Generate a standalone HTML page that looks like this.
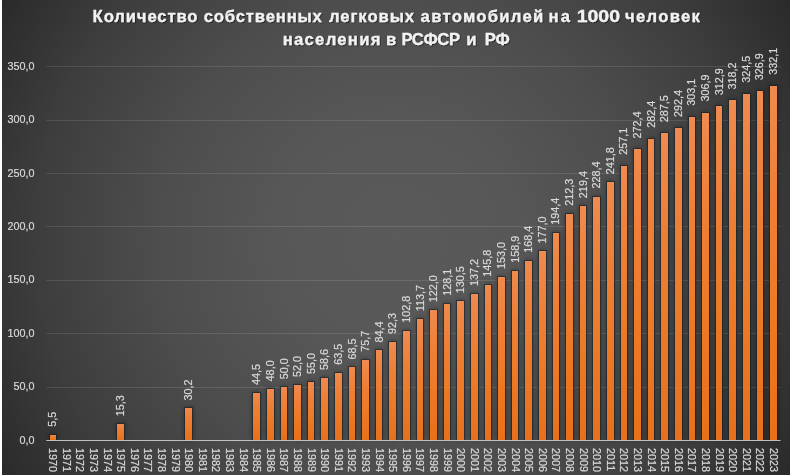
<!DOCTYPE html>
<html><head><meta charset="utf-8"><style>
html,body{margin:0;padding:0;width:790px;height:475px;overflow:hidden;background:#2a2a2a}
svg{display:block;will-change:transform}
text{font-family:"Liberation Sans",sans-serif}
</style></head><body>
<svg width="790" height="475" viewBox="0 0 790 475">
<defs>
<radialGradient id="bg" cx="395" cy="237" r="480" gradientUnits="userSpaceOnUse">
<stop offset="0" stop-color="#5a5a5a"/>
<stop offset="0.25" stop-color="#575757"/>
<stop offset="0.5" stop-color="#4d4d4d"/>
<stop offset="0.75" stop-color="#3d3d3d"/>
<stop offset="1" stop-color="#262626"/>
</radialGradient>
<linearGradient id="bar" x1="0" y1="0" x2="0" y2="1">
<stop offset="0" stop-color="#f08a4e"/>
<stop offset="0.3" stop-color="#ef7f36"/>
<stop offset="0.6" stop-color="#ed7a26"/>
<stop offset="1" stop-color="#e8701a"/>
</linearGradient>
<filter id="tsh" x="-5%" y="-20%" width="110%" height="140%">
<feDropShadow dx="0.8" dy="0.8" stdDeviation="0.6" flood-color="#000" flood-opacity="0.6"/>
</filter>
<filter id="bsh" x="-50%" y="-5%" width="200%" height="110%"><feGaussianBlur stdDeviation="0.45"/></filter>
<filter id="bsoft" x="-5%" y="-5%" width="110%" height="110%"><feGaussianBlur stdDeviation="2"/></filter>
</defs>
<rect x="0" y="0" width="790" height="475" fill="url(#bg)"/>
<rect x="0" y="0" width="2" height="475" fill="#ffffff"/>

<rect x="46.3" y="387" width="734.20" height="1" fill="#ffffff" fill-opacity="0.11"/>
<rect x="46.3" y="333" width="734.20" height="1" fill="#ffffff" fill-opacity="0.11"/>
<rect x="46.3" y="280" width="734.20" height="1" fill="#ffffff" fill-opacity="0.11"/>
<rect x="46.3" y="226" width="734.20" height="1" fill="#ffffff" fill-opacity="0.11"/>
<rect x="46.3" y="173" width="734.20" height="1" fill="#ffffff" fill-opacity="0.11"/>
<rect x="46.3" y="120" width="734.20" height="1" fill="#ffffff" fill-opacity="0.11"/>
<rect x="46.3" y="66" width="734.20" height="1" fill="#ffffff" fill-opacity="0.11"/>
<text x="34.5" y="443.80" text-anchor="end" font-size="10.8" fill="#d9d9d9" stroke="#d9d9d9" stroke-width="0.2">0,0</text>
<text x="34.5" y="390.34" text-anchor="end" font-size="10.8" fill="#d9d9d9" stroke="#d9d9d9" stroke-width="0.2">50,0</text>
<text x="34.5" y="336.89" text-anchor="end" font-size="10.8" fill="#d9d9d9" stroke="#d9d9d9" stroke-width="0.2">100,0</text>
<text x="34.5" y="283.43" text-anchor="end" font-size="10.8" fill="#d9d9d9" stroke="#d9d9d9" stroke-width="0.2">150,0</text>
<text x="34.5" y="229.97" text-anchor="end" font-size="10.8" fill="#d9d9d9" stroke="#d9d9d9" stroke-width="0.2">200,0</text>
<text x="34.5" y="176.51" text-anchor="end" font-size="10.8" fill="#d9d9d9" stroke="#d9d9d9" stroke-width="0.2">250,0</text>
<text x="34.5" y="123.06" text-anchor="end" font-size="10.8" fill="#d9d9d9" stroke="#d9d9d9" stroke-width="0.2">300,0</text>
<text x="34.5" y="69.60" text-anchor="end" font-size="10.8" fill="#d9d9d9" stroke="#d9d9d9" stroke-width="0.2">350,0</text>
<g fill="#000" opacity="0.35" filter="url(#bsoft)"><rect x="49" y="434" width="8" height="6"/><rect x="116" y="423" width="9" height="17"/><rect x="184" y="407" width="9" height="33"/><rect x="252" y="392" width="9" height="48"/><rect x="266" y="388" width="9" height="52"/><rect x="280" y="386" width="8" height="54"/><rect x="293" y="384" width="9" height="56"/><rect x="307" y="381" width="8" height="59"/><rect x="320" y="377" width="9" height="63"/><rect x="334" y="372" width="9" height="68"/><rect x="348" y="366" width="8" height="74"/><rect x="361" y="359" width="9" height="81"/><rect x="375" y="349" width="8" height="91"/><rect x="388" y="341" width="9" height="99"/><rect x="402" y="330" width="9" height="110"/><rect x="416" y="318" width="8" height="122"/><rect x="429" y="309" width="9" height="131"/><rect x="443" y="303" width="8" height="137"/><rect x="456" y="300" width="9" height="140"/><rect x="470" y="293" width="9" height="147"/><rect x="484" y="284" width="8" height="156"/><rect x="497" y="276" width="9" height="164"/><rect x="511" y="270" width="8" height="170"/><rect x="524" y="260" width="9" height="180"/><rect x="538" y="250" width="9" height="190"/><rect x="552" y="232" width="8" height="208"/><rect x="565" y="213" width="9" height="227"/><rect x="579" y="205" width="8" height="235"/><rect x="592" y="196" width="9" height="244"/><rect x="606" y="181" width="9" height="259"/><rect x="620" y="165" width="8" height="275"/><rect x="633" y="148" width="9" height="292"/><rect x="647" y="138" width="8" height="302"/><rect x="660" y="132" width="9" height="308"/><rect x="674" y="127" width="9" height="313"/><rect x="688" y="116" width="8" height="324"/><rect x="701" y="112" width="9" height="328"/><rect x="715" y="105" width="8" height="335"/><rect x="728" y="99" width="9" height="341"/><rect x="742" y="93" width="9" height="347"/><rect x="756" y="90" width="8" height="350"/><rect x="769" y="85" width="9" height="355"/></g>
<g fill="#18222c" opacity="0.55" filter="url(#bsh)"><rect x="49" y="434" width="8" height="6"/><rect x="116" y="423" width="9" height="17"/><rect x="184" y="407" width="9" height="33"/><rect x="252" y="392" width="9" height="48"/><rect x="266" y="388" width="9" height="52"/><rect x="280" y="386" width="8" height="54"/><rect x="293" y="384" width="9" height="56"/><rect x="307" y="381" width="8" height="59"/><rect x="320" y="377" width="9" height="63"/><rect x="334" y="372" width="9" height="68"/><rect x="348" y="366" width="8" height="74"/><rect x="361" y="359" width="9" height="81"/><rect x="375" y="349" width="8" height="91"/><rect x="388" y="341" width="9" height="99"/><rect x="402" y="330" width="9" height="110"/><rect x="416" y="318" width="8" height="122"/><rect x="429" y="309" width="9" height="131"/><rect x="443" y="303" width="8" height="137"/><rect x="456" y="300" width="9" height="140"/><rect x="470" y="293" width="9" height="147"/><rect x="484" y="284" width="8" height="156"/><rect x="497" y="276" width="9" height="164"/><rect x="511" y="270" width="8" height="170"/><rect x="524" y="260" width="9" height="180"/><rect x="538" y="250" width="9" height="190"/><rect x="552" y="232" width="8" height="208"/><rect x="565" y="213" width="9" height="227"/><rect x="579" y="205" width="8" height="235"/><rect x="592" y="196" width="9" height="244"/><rect x="606" y="181" width="9" height="259"/><rect x="620" y="165" width="8" height="275"/><rect x="633" y="148" width="9" height="292"/><rect x="647" y="138" width="8" height="302"/><rect x="660" y="132" width="9" height="308"/><rect x="674" y="127" width="9" height="313"/><rect x="688" y="116" width="8" height="324"/><rect x="701" y="112" width="9" height="328"/><rect x="715" y="105" width="8" height="335"/><rect x="728" y="99" width="9" height="341"/><rect x="742" y="93" width="9" height="347"/><rect x="756" y="90" width="8" height="350"/><rect x="769" y="85" width="9" height="355"/></g>
<rect x="50" y="435" width="6" height="5" fill="url(#bar)"/><rect x="117" y="424" width="7" height="16" fill="url(#bar)"/><rect x="185" y="408" width="7" height="32" fill="url(#bar)"/><rect x="253" y="393" width="7" height="47" fill="url(#bar)"/><rect x="267" y="389" width="7" height="51" fill="url(#bar)"/><rect x="281" y="387" width="6" height="53" fill="url(#bar)"/><rect x="294" y="385" width="7" height="55" fill="url(#bar)"/><rect x="308" y="382" width="6" height="58" fill="url(#bar)"/><rect x="321" y="378" width="7" height="62" fill="url(#bar)"/><rect x="335" y="373" width="7" height="67" fill="url(#bar)"/><rect x="349" y="367" width="6" height="73" fill="url(#bar)"/><rect x="362" y="360" width="7" height="80" fill="url(#bar)"/><rect x="376" y="350" width="6" height="90" fill="url(#bar)"/><rect x="389" y="342" width="7" height="98" fill="url(#bar)"/><rect x="403" y="331" width="7" height="109" fill="url(#bar)"/><rect x="417" y="319" width="6" height="121" fill="url(#bar)"/><rect x="430" y="310" width="7" height="130" fill="url(#bar)"/><rect x="444" y="304" width="6" height="136" fill="url(#bar)"/><rect x="457" y="301" width="7" height="139" fill="url(#bar)"/><rect x="471" y="294" width="7" height="146" fill="url(#bar)"/><rect x="485" y="285" width="6" height="155" fill="url(#bar)"/><rect x="498" y="277" width="7" height="163" fill="url(#bar)"/><rect x="512" y="271" width="6" height="169" fill="url(#bar)"/><rect x="525" y="261" width="7" height="179" fill="url(#bar)"/><rect x="539" y="251" width="7" height="189" fill="url(#bar)"/><rect x="553" y="233" width="6" height="207" fill="url(#bar)"/><rect x="566" y="214" width="7" height="226" fill="url(#bar)"/><rect x="580" y="206" width="6" height="234" fill="url(#bar)"/><rect x="593" y="197" width="7" height="243" fill="url(#bar)"/><rect x="607" y="182" width="7" height="258" fill="url(#bar)"/><rect x="621" y="166" width="6" height="274" fill="url(#bar)"/><rect x="634" y="149" width="7" height="291" fill="url(#bar)"/><rect x="648" y="139" width="6" height="301" fill="url(#bar)"/><rect x="661" y="133" width="7" height="307" fill="url(#bar)"/><rect x="675" y="128" width="7" height="312" fill="url(#bar)"/><rect x="689" y="117" width="6" height="323" fill="url(#bar)"/><rect x="702" y="113" width="7" height="327" fill="url(#bar)"/><rect x="716" y="106" width="6" height="334" fill="url(#bar)"/><rect x="729" y="100" width="7" height="340" fill="url(#bar)"/><rect x="743" y="94" width="7" height="346" fill="url(#bar)"/><rect x="757" y="91" width="6" height="349" fill="url(#bar)"/><rect x="770" y="86" width="7" height="354" fill="url(#bar)"/>
<rect x="46.3" y="440" width="734.20" height="1" fill="#c0c0c0"/>
<text transform="translate(56.40,426.82) rotate(-90)" font-size="10.8" fill="#d9d9d9" stroke="#d9d9d9" stroke-width="0.2">5,5</text>
<text transform="translate(124.38,416.34) rotate(-90)" font-size="10.8" fill="#d9d9d9" stroke="#d9d9d9" stroke-width="0.2">15,3</text>
<text transform="translate(192.36,400.41) rotate(-90)" font-size="10.8" fill="#d9d9d9" stroke="#d9d9d9" stroke-width="0.2">30,2</text>
<text transform="translate(260.34,385.12) rotate(-90)" font-size="10.8" fill="#d9d9d9" stroke="#d9d9d9" stroke-width="0.2">44,5</text>
<text transform="translate(273.94,381.38) rotate(-90)" font-size="10.8" fill="#d9d9d9" stroke="#d9d9d9" stroke-width="0.2">48,0</text>
<text transform="translate(287.54,379.24) rotate(-90)" font-size="10.8" fill="#d9d9d9" stroke="#d9d9d9" stroke-width="0.2">50,0</text>
<text transform="translate(301.13,377.10) rotate(-90)" font-size="10.8" fill="#d9d9d9" stroke="#d9d9d9" stroke-width="0.2">52,0</text>
<text transform="translate(314.73,373.90) rotate(-90)" font-size="10.8" fill="#d9d9d9" stroke="#d9d9d9" stroke-width="0.2">55,0</text>
<text transform="translate(328.32,370.05) rotate(-90)" font-size="10.8" fill="#d9d9d9" stroke="#d9d9d9" stroke-width="0.2">58,6</text>
<text transform="translate(341.92,364.81) rotate(-90)" font-size="10.8" fill="#d9d9d9" stroke="#d9d9d9" stroke-width="0.2">63,5</text>
<text transform="translate(355.52,359.46) rotate(-90)" font-size="10.8" fill="#d9d9d9" stroke="#d9d9d9" stroke-width="0.2">68,5</text>
<text transform="translate(369.11,351.77) rotate(-90)" font-size="10.8" fill="#d9d9d9" stroke="#d9d9d9" stroke-width="0.2">75,7</text>
<text transform="translate(382.71,342.46) rotate(-90)" font-size="10.8" fill="#d9d9d9" stroke="#d9d9d9" stroke-width="0.2">84,4</text>
<text transform="translate(396.31,334.02) rotate(-90)" font-size="10.8" fill="#d9d9d9" stroke="#d9d9d9" stroke-width="0.2">92,3</text>
<text transform="translate(409.90,322.79) rotate(-90)" font-size="10.8" fill="#d9d9d9" stroke="#d9d9d9" stroke-width="0.2">102,8</text>
<text transform="translate(423.50,311.14) rotate(-90)" font-size="10.8" fill="#d9d9d9" stroke="#d9d9d9" stroke-width="0.2">113,7</text>
<text transform="translate(437.09,302.26) rotate(-90)" font-size="10.8" fill="#d9d9d9" stroke="#d9d9d9" stroke-width="0.2">122,0</text>
<text transform="translate(450.69,295.74) rotate(-90)" font-size="10.8" fill="#d9d9d9" stroke="#d9d9d9" stroke-width="0.2">128,1</text>
<text transform="translate(464.29,293.18) rotate(-90)" font-size="10.8" fill="#d9d9d9" stroke="#d9d9d9" stroke-width="0.2">130,5</text>
<text transform="translate(477.88,286.01) rotate(-90)" font-size="10.8" fill="#d9d9d9" stroke="#d9d9d9" stroke-width="0.2">137,2</text>
<text transform="translate(491.48,276.82) rotate(-90)" font-size="10.8" fill="#d9d9d9" stroke="#d9d9d9" stroke-width="0.2">145,8</text>
<text transform="translate(505.08,269.12) rotate(-90)" font-size="10.8" fill="#d9d9d9" stroke="#d9d9d9" stroke-width="0.2">153,0</text>
<text transform="translate(518.67,262.81) rotate(-90)" font-size="10.8" fill="#d9d9d9" stroke="#d9d9d9" stroke-width="0.2">158,9</text>
<text transform="translate(532.27,252.66) rotate(-90)" font-size="10.8" fill="#d9d9d9" stroke="#d9d9d9" stroke-width="0.2">168,4</text>
<text transform="translate(545.86,243.46) rotate(-90)" font-size="10.8" fill="#d9d9d9" stroke="#d9d9d9" stroke-width="0.2">177,0</text>
<text transform="translate(559.46,224.86) rotate(-90)" font-size="10.8" fill="#d9d9d9" stroke="#d9d9d9" stroke-width="0.2">194,4</text>
<text transform="translate(573.06,205.72) rotate(-90)" font-size="10.8" fill="#d9d9d9" stroke="#d9d9d9" stroke-width="0.2">212,3</text>
<text transform="translate(586.65,198.13) rotate(-90)" font-size="10.8" fill="#d9d9d9" stroke="#d9d9d9" stroke-width="0.2">219,4</text>
<text transform="translate(600.25,188.51) rotate(-90)" font-size="10.8" fill="#d9d9d9" stroke="#d9d9d9" stroke-width="0.2">228,4</text>
<text transform="translate(613.85,174.18) rotate(-90)" font-size="10.8" fill="#d9d9d9" stroke="#d9d9d9" stroke-width="0.2">241,8</text>
<text transform="translate(627.44,154.82) rotate(-90)" font-size="10.8" fill="#d9d9d9" stroke="#d9d9d9" stroke-width="0.2">257,1</text>
<text transform="translate(641.04,138.47) rotate(-90)" font-size="10.8" fill="#d9d9d9" stroke="#d9d9d9" stroke-width="0.2">272,4</text>
<text transform="translate(654.64,127.77) rotate(-90)" font-size="10.8" fill="#d9d9d9" stroke="#d9d9d9" stroke-width="0.2">282,4</text>
<text transform="translate(668.23,122.32) rotate(-90)" font-size="10.8" fill="#d9d9d9" stroke="#d9d9d9" stroke-width="0.2">287,5</text>
<text transform="translate(681.83,117.08) rotate(-90)" font-size="10.8" fill="#d9d9d9" stroke="#d9d9d9" stroke-width="0.2">292,4</text>
<text transform="translate(695.42,105.64) rotate(-90)" font-size="10.8" fill="#d9d9d9" stroke="#d9d9d9" stroke-width="0.2">303,1</text>
<text transform="translate(709.02,101.58) rotate(-90)" font-size="10.8" fill="#d9d9d9" stroke="#d9d9d9" stroke-width="0.2">306,9</text>
<text transform="translate(722.62,95.17) rotate(-90)" font-size="10.8" fill="#d9d9d9" stroke="#d9d9d9" stroke-width="0.2">312,9</text>
<text transform="translate(736.21,89.50) rotate(-90)" font-size="10.8" fill="#d9d9d9" stroke="#d9d9d9" stroke-width="0.2">318,2</text>
<text transform="translate(749.81,82.76) rotate(-90)" font-size="10.8" fill="#d9d9d9" stroke="#d9d9d9" stroke-width="0.2">324,5</text>
<text transform="translate(763.41,80.20) rotate(-90)" font-size="10.8" fill="#d9d9d9" stroke="#d9d9d9" stroke-width="0.2">326,9</text>
<text transform="translate(777.00,74.64) rotate(-90)" font-size="10.8" fill="#d9d9d9" stroke="#d9d9d9" stroke-width="0.2">332,1</text>
<text transform="translate(49.30,448.0) rotate(90)" font-size="10.8" fill="#d9d9d9" stroke="#d9d9d9" stroke-width="0.2">1970</text>
<text transform="translate(62.89,448.0) rotate(90)" font-size="10.8" fill="#d9d9d9" stroke="#d9d9d9" stroke-width="0.2">1971</text>
<text transform="translate(76.49,448.0) rotate(90)" font-size="10.8" fill="#d9d9d9" stroke="#d9d9d9" stroke-width="0.2">1972</text>
<text transform="translate(90.09,448.0) rotate(90)" font-size="10.8" fill="#d9d9d9" stroke="#d9d9d9" stroke-width="0.2">1973</text>
<text transform="translate(103.68,448.0) rotate(90)" font-size="10.8" fill="#d9d9d9" stroke="#d9d9d9" stroke-width="0.2">1974</text>
<text transform="translate(117.28,448.0) rotate(90)" font-size="10.8" fill="#d9d9d9" stroke="#d9d9d9" stroke-width="0.2">1975</text>
<text transform="translate(130.88,448.0) rotate(90)" font-size="10.8" fill="#d9d9d9" stroke="#d9d9d9" stroke-width="0.2">1976</text>
<text transform="translate(144.47,448.0) rotate(90)" font-size="10.8" fill="#d9d9d9" stroke="#d9d9d9" stroke-width="0.2">1977</text>
<text transform="translate(158.07,448.0) rotate(90)" font-size="10.8" fill="#d9d9d9" stroke="#d9d9d9" stroke-width="0.2">1978</text>
<text transform="translate(171.66,448.0) rotate(90)" font-size="10.8" fill="#d9d9d9" stroke="#d9d9d9" stroke-width="0.2">1979</text>
<text transform="translate(185.26,448.0) rotate(90)" font-size="10.8" fill="#d9d9d9" stroke="#d9d9d9" stroke-width="0.2">1980</text>
<text transform="translate(198.86,448.0) rotate(90)" font-size="10.8" fill="#d9d9d9" stroke="#d9d9d9" stroke-width="0.2">1981</text>
<text transform="translate(212.45,448.0) rotate(90)" font-size="10.8" fill="#d9d9d9" stroke="#d9d9d9" stroke-width="0.2">1982</text>
<text transform="translate(226.05,448.0) rotate(90)" font-size="10.8" fill="#d9d9d9" stroke="#d9d9d9" stroke-width="0.2">1983</text>
<text transform="translate(239.65,448.0) rotate(90)" font-size="10.8" fill="#d9d9d9" stroke="#d9d9d9" stroke-width="0.2">1984</text>
<text transform="translate(253.24,448.0) rotate(90)" font-size="10.8" fill="#d9d9d9" stroke="#d9d9d9" stroke-width="0.2">1985</text>
<text transform="translate(266.84,448.0) rotate(90)" font-size="10.8" fill="#d9d9d9" stroke="#d9d9d9" stroke-width="0.2">1986</text>
<text transform="translate(280.44,448.0) rotate(90)" font-size="10.8" fill="#d9d9d9" stroke="#d9d9d9" stroke-width="0.2">1987</text>
<text transform="translate(294.03,448.0) rotate(90)" font-size="10.8" fill="#d9d9d9" stroke="#d9d9d9" stroke-width="0.2">1988</text>
<text transform="translate(307.63,448.0) rotate(90)" font-size="10.8" fill="#d9d9d9" stroke="#d9d9d9" stroke-width="0.2">1989</text>
<text transform="translate(321.22,448.0) rotate(90)" font-size="10.8" fill="#d9d9d9" stroke="#d9d9d9" stroke-width="0.2">1990</text>
<text transform="translate(334.82,448.0) rotate(90)" font-size="10.8" fill="#d9d9d9" stroke="#d9d9d9" stroke-width="0.2">1991</text>
<text transform="translate(348.42,448.0) rotate(90)" font-size="10.8" fill="#d9d9d9" stroke="#d9d9d9" stroke-width="0.2">1992</text>
<text transform="translate(362.01,448.0) rotate(90)" font-size="10.8" fill="#d9d9d9" stroke="#d9d9d9" stroke-width="0.2">1993</text>
<text transform="translate(375.61,448.0) rotate(90)" font-size="10.8" fill="#d9d9d9" stroke="#d9d9d9" stroke-width="0.2">1994</text>
<text transform="translate(389.21,448.0) rotate(90)" font-size="10.8" fill="#d9d9d9" stroke="#d9d9d9" stroke-width="0.2">1995</text>
<text transform="translate(402.80,448.0) rotate(90)" font-size="10.8" fill="#d9d9d9" stroke="#d9d9d9" stroke-width="0.2">1996</text>
<text transform="translate(416.40,448.0) rotate(90)" font-size="10.8" fill="#d9d9d9" stroke="#d9d9d9" stroke-width="0.2">1997</text>
<text transform="translate(429.99,448.0) rotate(90)" font-size="10.8" fill="#d9d9d9" stroke="#d9d9d9" stroke-width="0.2">1998</text>
<text transform="translate(443.59,448.0) rotate(90)" font-size="10.8" fill="#d9d9d9" stroke="#d9d9d9" stroke-width="0.2">1999</text>
<text transform="translate(457.19,448.0) rotate(90)" font-size="10.8" fill="#d9d9d9" stroke="#d9d9d9" stroke-width="0.2">2000</text>
<text transform="translate(470.78,448.0) rotate(90)" font-size="10.8" fill="#d9d9d9" stroke="#d9d9d9" stroke-width="0.2">2001</text>
<text transform="translate(484.38,448.0) rotate(90)" font-size="10.8" fill="#d9d9d9" stroke="#d9d9d9" stroke-width="0.2">2002</text>
<text transform="translate(497.98,448.0) rotate(90)" font-size="10.8" fill="#d9d9d9" stroke="#d9d9d9" stroke-width="0.2">2003</text>
<text transform="translate(511.57,448.0) rotate(90)" font-size="10.8" fill="#d9d9d9" stroke="#d9d9d9" stroke-width="0.2">2004</text>
<text transform="translate(525.17,448.0) rotate(90)" font-size="10.8" fill="#d9d9d9" stroke="#d9d9d9" stroke-width="0.2">2005</text>
<text transform="translate(538.76,448.0) rotate(90)" font-size="10.8" fill="#d9d9d9" stroke="#d9d9d9" stroke-width="0.2">2006</text>
<text transform="translate(552.36,448.0) rotate(90)" font-size="10.8" fill="#d9d9d9" stroke="#d9d9d9" stroke-width="0.2">2007</text>
<text transform="translate(565.96,448.0) rotate(90)" font-size="10.8" fill="#d9d9d9" stroke="#d9d9d9" stroke-width="0.2">2008</text>
<text transform="translate(579.55,448.0) rotate(90)" font-size="10.8" fill="#d9d9d9" stroke="#d9d9d9" stroke-width="0.2">2009</text>
<text transform="translate(593.15,448.0) rotate(90)" font-size="10.8" fill="#d9d9d9" stroke="#d9d9d9" stroke-width="0.2">2010</text>
<text transform="translate(606.75,448.0) rotate(90)" font-size="10.8" fill="#d9d9d9" stroke="#d9d9d9" stroke-width="0.2">2011</text>
<text transform="translate(620.34,448.0) rotate(90)" font-size="10.8" fill="#d9d9d9" stroke="#d9d9d9" stroke-width="0.2">2012</text>
<text transform="translate(633.94,448.0) rotate(90)" font-size="10.8" fill="#d9d9d9" stroke="#d9d9d9" stroke-width="0.2">2013</text>
<text transform="translate(647.54,448.0) rotate(90)" font-size="10.8" fill="#d9d9d9" stroke="#d9d9d9" stroke-width="0.2">2014</text>
<text transform="translate(661.13,448.0) rotate(90)" font-size="10.8" fill="#d9d9d9" stroke="#d9d9d9" stroke-width="0.2">2015</text>
<text transform="translate(674.73,448.0) rotate(90)" font-size="10.8" fill="#d9d9d9" stroke="#d9d9d9" stroke-width="0.2">2016</text>
<text transform="translate(688.32,448.0) rotate(90)" font-size="10.8" fill="#d9d9d9" stroke="#d9d9d9" stroke-width="0.2">2017</text>
<text transform="translate(701.92,448.0) rotate(90)" font-size="10.8" fill="#d9d9d9" stroke="#d9d9d9" stroke-width="0.2">2018</text>
<text transform="translate(715.52,448.0) rotate(90)" font-size="10.8" fill="#d9d9d9" stroke="#d9d9d9" stroke-width="0.2">2019</text>
<text transform="translate(729.11,448.0) rotate(90)" font-size="10.8" fill="#d9d9d9" stroke="#d9d9d9" stroke-width="0.2">2020</text>
<text transform="translate(742.71,448.0) rotate(90)" font-size="10.8" fill="#d9d9d9" stroke="#d9d9d9" stroke-width="0.2">2021</text>
<text transform="translate(756.31,448.0) rotate(90)" font-size="10.8" fill="#d9d9d9" stroke="#d9d9d9" stroke-width="0.2">2022</text>
<text transform="translate(769.90,448.0) rotate(90)" font-size="10.8" fill="#d9d9d9" stroke="#d9d9d9" stroke-width="0.2">2023</text>
<g font-size="16.6" font-weight="bold" fill="#f2f2f2" stroke="#f2f2f2" stroke-width="0.3" filter="url(#tsh)"><text x="92.62" y="22.3" textLength="104.89" lengthAdjust="spacing">Количество</text><text x="203.78" y="22.3" textLength="118.04" lengthAdjust="spacing">собственных</text><text x="328.95" y="22.3" textLength="85.08" lengthAdjust="spacing">легковых</text><text x="420.59" y="22.3" textLength="122.64" lengthAdjust="spacing">автомобилей</text><text x="548.61" y="22.3" textLength="21.29" lengthAdjust="spacing">на</text><text x="576.72" y="22.3" textLength="43.23" lengthAdjust="spacingAndGlyphs">1000</text><text x="625.08" y="22.3" textLength="74.76" lengthAdjust="spacing">человек</text><text x="282.70" y="45.1" textLength="97.63" lengthAdjust="spacing">населения</text><text x="385.96" y="45.1">в</text><text x="401.58" y="45.1" textLength="58.42" lengthAdjust="spacing">РСФСР</text><text x="466.17" y="45.1">и</text><text x="484.79" y="45.1" textLength="24.85" lengthAdjust="spacing">РФ</text></g>
</svg></body></html>
